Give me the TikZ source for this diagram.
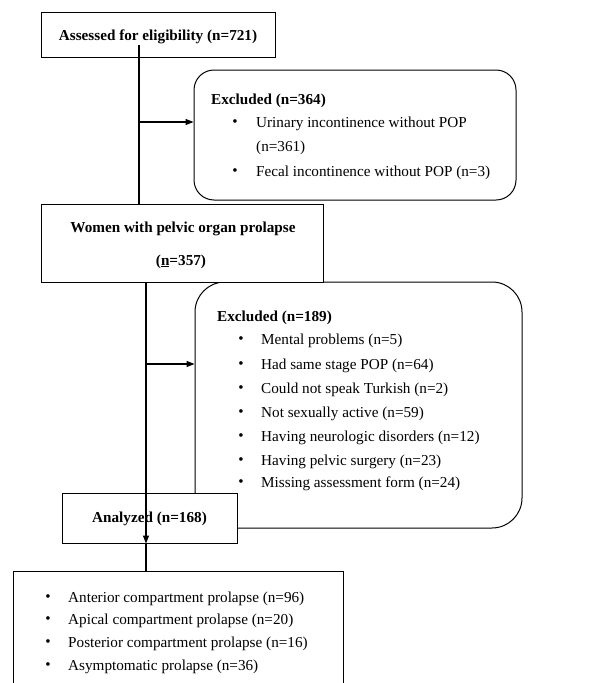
\documentclass[tikz,border=0pt]{standalone}
\usepackage{fontspec}
\setmainfont{Liberation Serif}
\usetikzlibrary{arrows.meta}
\begin{document}
\begin{tikzpicture}[x=1pt,y=-1pt,
  every node/.style={font=\fontsize{15.2}{18}\selectfont, inner sep=0pt},
  box/.style={draw, line width=1pt, fill=white},
  rbox/.style={draw, line width=1pt, rounded corners=#1},
  ln/.style={line width=1.1pt},
  arr/.style={line width=1.1pt, -{Triangle[length=8pt,width=6pt]}},
  bul/.style={anchor=center, yshift=-1.5pt},
  itm/.style={anchor=west, yshift=-1.5pt},
  ctr/.style={font=\fontsize{15.2}{18}\selectfont\bfseries, yshift=-1.5pt},
  hd/.style={anchor=west, yshift=-1.5pt, font=\fontsize{15.2}{18}\selectfont\bfseries}]
\clip (0,0) rectangle (592,683);
\fill[white] (0,0) rectangle (592,683);
% boxes
\node[rbox=20, minimum width=322pt, minimum height=130pt] (exc1) at (355,135) {};
\node[rbox=30, minimum width=327pt, minimum height=246pt] (exc2) at (358.5,405) {};
\node[box, minimum width=234pt, minimum height=45pt] (box1) at (158,34.5) {};
\node[box, minimum width=282pt, minimum height=78pt] (box2) at (182,243) {};
\node[box, minimum width=175pt, minimum height=50pt] (an) at (149.5,518) {};
\node[box, minimum width=330pt, minimum height=140pt] (fin) at (178,641) {};
% texts
\node[ctr] (t1) at (158,35) {Assessed for eligibility (n=721)};
\node[hd] (e1h) at (211,99) {Excluded (n=364)};
\node[bul] (e1b1) at (235,122) {\textbullet};
\node[itm] (e1t1) at (256,122) {Urinary incontinence without POP};
\node[itm] (e1t1b) at (256,146) {(n=361)};
\node[bul] (e1b2) at (235,171) {\textbullet};
\node[itm] (e1t2) at (256,171) {Fecal incontinence without POP (n=3)};
\node[ctr] (t2a) at (183,227) {Women with pelvic organ prolapse};
\node[ctr] (t2b) at (181,260) {(\underline{n}=357)};
\node[hd] (e2h) at (217,316) {Excluded (n=189)};
\foreach \y/\t [count=\i] in {339/Mental problems (n=5), 364/Had same stage POP (n=64), 388/Could not speak Turkish (n=2), 412/Not sexually active (n=59), 436/Having neurologic disorders (n=12), 460/Having pelvic surgery (n=23), 482/Missing assessment form (n=24)}{
  \node[bul] (e2b\i) at (241,\y) {\textbullet};
  \node[itm] (e2t\i) at (261,\y) {\t};
}
\node[ctr] (t3) at (149.5,517) {Analyzed (n=168)};
\foreach \y/\t [count=\i] in {597/Anterior compartment prolapse (n=96), 619/Apical compartment prolapse (n=20), 642/Posterior compartment prolapse (n=16), 665/Asymptomatic prolapse (n=36)}{
  \node[bul] (fb\i) at (48,\y) {\textbullet};
  \node[itm] (ft\i) at (68,\y) {\t};
}
% connectors
\coordinate (s1) at (139,45);
\coordinate (j1) at (139,122);
\coordinate (v2) at (146,0);
\coordinate (j2) at (146,364);
\draw[ln] (s1) -- (box2.north -| s1);
\draw[arr] (j1) -- (j1 -| exc1.west);
\draw[arr] (box2.south -| v2) -- (an.south -| v2);
\draw[arr] (j2) -- (j2 -| exc2.west);
\draw[line width=2pt] (an.south -| v2) -- (fin.north -| v2);
\end{tikzpicture}
\end{document}
